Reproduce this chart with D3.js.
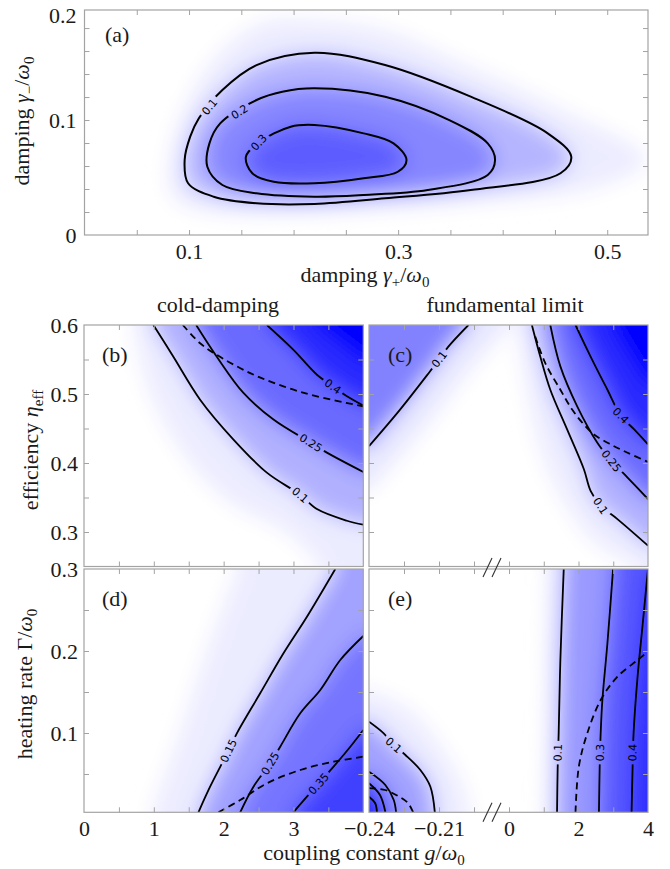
<!DOCTYPE html>
<html>
<head>
<meta charset="utf-8">
<script src="https://cdnjs.cloudflare.com/ajax/libs/d3/7.8.5/d3.min.js"></script>
<style>
  body { margin: 0; background: #fff; }
</style>
</head>
<body>
<svg id="chart" width="670" height="869"></svg>
<script>
// ---------- panel (a): damping gamma+ (x) vs gamma- (y) ----------
const aZero = [[0.0807,0.042],[0.0827,0.0739],[0.0991,0.1174],[0.1319,0.1609],[0.1727,0.1855],[0.2199,0.187],[0.2875,0.1783],[0.3694,0.1463],[0.4512,0.1116],[0.5372,0.0652],[0.4923,0.042],[0.3694,0.0276],[0.2199,0.0189],[0.1319,0.0189],[0.0909,0.0276]];
const aC01 = [[0.2199,0.1585],[0.2875,0.1478],[0.3694,0.1203],[0.4431,0.0884],[0.4656,0.0681],[0.4553,0.0537],[0.3694,0.0391],[0.2875,0.0319],[0.2199,0.027],[0.1646,0.0276],[0.1236,0.0333],[0.0991,0.045],[0.0958,0.0652],[0.1011,0.0855],[0.1094,0.1015],[0.1319,0.1261],[0.1646,0.1478]];
const aC02 = [[0.2199,0.1276],[0.2875,0.1203],[0.3489,0.1],[0.3857,0.0797],[0.3927,0.0652],[0.3857,0.0522],[0.3284,0.0391],[0.267,0.0348],[0.2199,0.0333],[0.1646,0.0363],[0.1319,0.0435],[0.1175,0.0594],[0.1195,0.0797],[0.1298,0.0971],[0.1646,0.1174],[0.1892,0.1246]];
const aC03 = [[0.2199,0.0957],[0.267,0.0884],[0.2956,0.0797],[0.308,0.0652],[0.2997,0.055],[0.267,0.0493],[0.2199,0.045],[0.181,0.0463],[0.1605,0.0537],[0.1544,0.0681],[0.1667,0.0805],[0.1973,0.0942]];
const aXTicks = [0.05,0.1,0.15,0.2,0.25,0.3,0.35,0.4,0.45,0.5];
const aXLabels = [0.1,0.3,0.5];
const aYTicks = [0.02,0.04,0.06,0.08,0.1,0.12,0.14,0.16,0.18];
const aYLabels = [0,0.1];
const aYTopLabel = [0.2];

// ---------- panel (b): cold-damping, efficiency vs coupling ----------
const bZero = [[0.707,0.6],[0.946,0.5],[1.52,0.4],[2.14,0.34],[2.9,0.3],[3.4,0.25]];
const bC01 = [[0.994,0.6],[1.28,0.554],[1.663,0.4918],[2.141,0.434],[2.619,0.386],[3.097,0.3538],[3.336,0.3332],[3.766,0.3163],[4.0,0.3106]];
const bC025 = [[1.606,0.6],[1.902,0.554],[2.284,0.5015],[2.714,0.463],[3.25,0.4293],[3.479,0.415],[4.0,0.387]];
const bC04 = [[2.619,0.6],[3.0,0.564],[3.336,0.5279],[3.565,0.511],[3.766,0.4966],[4.0,0.4832]];
const bDash = [[1.415,0.6],[1.663,0.5735],[1.902,0.5567],[2.38,0.5303],[2.857,0.511],[3.336,0.4966],[4.0,0.4822]];
const bHigh = [[3.3,0.6],[3.7,0.57],[4.0,0.545]];

// ---------- panel (c): fundamental limit, efficiency vs coupling (broken axis) ----------
const cLZero = [[-0.24,0.36],[-0.2153,0.455],[-0.1981,0.53],[0.03,0.6]];
const cLC01 = [[-0.24,0.4245],[-0.2267,0.4774],[-0.2139,0.5327],[-0.2099,0.5505],[-0.206,0.5687],[-0.1974,0.6]];
const cRZero = [[0.22,0.6],[0.513,0.506],[0.899,0.42],[1.478,0.352],[2.443,0.285],[3.41,0.256],[3.7,0.25]];
const cRC01 = [[0.658,0.6],[0.899,0.5543],[1.188,0.5062],[1.672,0.4486],[2.155,0.3909],[2.348,0.3596],[2.638,0.338],[3.12,0.3187],[4.0,0.2802]];
const cRC025 = [[1.188,0.6],[1.478,0.54],[1.962,0.4822],[2.542,0.4294],[2.947,0.403],[3.412,0.3789],[4.0,0.3476]];
const cRC04 = [[1.913,0.6],[2.348,0.5543],[2.832,0.5062],[3.217,0.4687],[3.603,0.4486],[4.0,0.427]];
const cRDash = [[0.754,0.5832],[1.043,0.5447],[1.478,0.5062],[1.817,0.4774],[2.155,0.4558],[2.445,0.4414],[2.928,0.4269],[3.412,0.4149],[4.0,0.4014]];
const cRHigh = [[2.9,0.6],[3.5,0.55],[4.0,0.51]];

// ---------- panel (d): cold-damping, heating rate vs coupling ----------
const dZero = [[0.97,0.0033],[1.376,0.1],[1.76,0.2],[2.2,0.3]];
const dC015 = [[1.639,0.0033],[1.806,0.0345],[2.069,0.0784],[2.189,0.0996],[2.523,0.1484],[2.857,0.1972],[3.193,0.2418],[3.599,0.3]];
const dC025 = [[2.237,0.0033],[2.427,0.0345],[2.667,0.063],[2.81,0.0833],[3.097,0.124],[3.384,0.1524],[3.67,0.189],[4.0,0.2183]];
const dC035 = [[3.0,0.0033],[3.193,0.0223],[3.36,0.038],[3.574,0.0589],[3.814,0.0833],[4.0,0.1037]];
const dDash = [[1.926,0.0033],[2.237,0.0183],[2.619,0.0386],[3.097,0.0549],[3.574,0.065],[4.0,0.0711]];

// ---------- panel (e): fundamental limit, heating rate vs coupling ----------
const eLZero = [[-0.24,0.152],[-0.2224,0.128],[-0.2081,0.0793],[-0.1996,0.0345],[-0.1967,0.0033]];
const eLC01 = [[-0.24,0.1138],[-0.2337,0.0996],[-0.2294,0.0854],[-0.2244,0.0732],[-0.218,0.0549],[-0.2137,0.0345],[-0.2118,0.0033]];
const eLC02 = [[-0.24,0.0528],[-0.233,0.0366],[-0.2294,0.0183],[-0.2284,0.0033]];
const eLC03 = [[-0.24,0.0387],[-0.2353,0.0244],[-0.233,0.0037]];
const eLC04 = [[-0.24,0.0223],[-0.2374,0.0146],[-0.2366,0.0037]];
const eLDash = [[-0.24,0.0329],[-0.2331,0.0305],[-0.2276,0.0232],[-0.2233,0.0146],[-0.2211,0.0033]];
const eRZero = [[1.14,0.3],[1.093,0.152],[1.043,0.0033]];
const eRC01 = [[1.575,0.3],[1.478,0.189],[1.429,0.0996],[1.4,0.057],[1.382,0.0033]];
const eRC03 = [[2.995,0.3],[2.832,0.2094],[2.687,0.1402],[2.638,0.0996],[2.609,0.057],[2.588,0.0033]];
const eRC04 = [[4.0,0.3],[3.84,0.2296],[3.7,0.1687],[3.585,0.0996],[3.556,0.057],[3.527,0.0033]];
const eRDash = [[1.913,0.0033],[2.009,0.0589],[2.252,0.0996],[2.638,0.1402],[3.122,0.1687],[3.701,0.189],[4.0,0.1992]];

// shared ticks for the lower panels
const bdXTicks = [0.5,1,1.5,2,2.5,3,3.5];
const dXLabels = [0,1,2,3];
const bcYTicks = [0.3,0.35,0.4,0.45,0.5,0.55];
const bYLabels = [0.3,0.4,0.5,0.6];
const deYTicks = [0.05,0.1,0.15,0.2,0.25];
const dYLabels = [0.1,0.2,0.3];
const ceXTicksL = [-0.225,-0.21,-0.195];
const ceXTicksR = [0,1,2,3];
const eXLabelsL = [-0.24,-0.21];
const eXLabelsR = [0,2,4];

const W = 670, H = 869;
const SERIF = '"Liberation Serif","Times New Roman",serif';
const INK = "#1a1a1a", FRAME = "#a3a3a3";

const svg = d3.select("#chart");
const defs = svg.append("defs");
defs.append("filter").attr("id", "soft")
    .attr("filterUnits", "userSpaceOnUse")
    .attr("x", 0).attr("y", 0).attr("width", W).attr("height", H)
  .append("feGaussianBlur").attr("stdDeviation", 10);

const shade = d3.scaleLinear().domain([0, 0.55]).range(["#ffffff", "#0000ff"]).clamp(true);

// scales
const xa = d3.scaleLinear().domain([0, 0.539]).range([84.5, 648]);
const ya = d3.scaleLinear().domain([0, 0.1957]).range([235, 10]);
const yaTop = d3.scaleLinear().domain([0, 0.1957]).range([240, 15]).clamp(true);
const xbd = d3.scaleLinear().domain([0, 4]).range([84, 363.3]);
const yb = d3.scaleLinear().domain([0.25, 0.6]).range([566.5, 325]);
const yd = d3.scaleLinear().domain([0.0033, 0.3]).range([812.3, 569]);
const xceL = d3.scaleLinear().domain([-0.24, -0.1873]).range([369, 492]);
const xceR = d3.scaleLinear().domain([-0.49, 4]).range([492, 648]);
const xce = g => g <= -0.1873 ? xceL(g) : xceR(g);

function drawPanel(p) {
    const { l, r, t, b } = p.box;
    const px = d => [p.x(d[0]), p.y(d[1])];
    const m = 40;
    const corner = { tl: [l - m, t - m], tr: [r + m, t - m], br: [r + m, b + m], bl: [l - m, b + m] };
    const push = q => {
        const dl = Math.abs(q[0] - l), dr = Math.abs(q[0] - r), dt = Math.abs(q[1] - t), db = Math.abs(q[1] - b);
        const mn = Math.min(dl, dr, dt, db);
        if (mn === dl) return [l - m, q[1]];
        if (mn === dr) return [r + m, q[1]];
        if (mn === dt) return [q[0], t - m];
        return [q[0], b + m];
    };

    defs.append("clipPath").attr("id", "clip-" + p.id)
      .append("rect").attr("x", l).attr("y", t).attr("width", r - l).attr("height", b - t);

    // density shading: bands filled by level, then softened
    const sh = svg.append("g").attr("clip-path", `url(#clip-${p.id})`)
      .append("g").attr("filter", "url(#soft)");
    p.fills.forEach(([pts, v, corners]) => {
        const P = pts.map(px);
        let d;
        if (!corners) {
            d = d3.line().curve(d3.curveCatmullRomClosed)(P);
        } else {
            const a = push(P[0]), z = push(P[P.length - 1]);
            d = `M${a}` + d3.line().curve(d3.curveCatmullRom)(P).replace(/^M/, "L") +
                `L${z}` + corners.map(c => `L${corner[c]}`).join("") + "Z";
        }
        sh.append("path").attr("d", d).attr("fill", shade(v));
    });

    // contour lines, with gaps under the labels
    const mask = defs.append("mask").attr("id", "mask-" + p.id)
        .attr("maskUnits", "userSpaceOnUse")
        .attr("x", 0).attr("y", 0).attr("width", W).attr("height", H);
    mask.append("rect").attr("x", 0).attr("y", 0).attr("width", W).attr("height", H).attr("fill", "#fff");

    const lg = svg.append("g").attr("clip-path", `url(#clip-${p.id})`)
      .append("g").attr("mask", `url(#mask-${p.id})`);
    p.lines.forEach(([pts, dashed]) => {
        lg.append("path")
          .attr("d", d3.line().curve(p.closed ? d3.curveCatmullRomClosed : d3.curveCatmullRom)(pts.map(px)))
          .attr("fill", "none")
          .attr("stroke", "#000")
          .attr("stroke-width", p.closed ? 2 : 1.8)
          .attr("stroke-dasharray", dashed ? "7,4.5" : null);
    });

    p.labels.forEach(([txt, gx, gy, pts]) => {
        const c = px([gx, gy]);
        const P = pts.map(px);
        let best = 0, bd = Infinity;
        for (let i = 0; i < P.length - 1; i++) {
            const mx = (P[i][0] + P[i + 1][0]) / 2, my = (P[i][1] + P[i + 1][1]) / 2;
            const dd = (mx - c[0]) ** 2 + (my - c[1]) ** 2;
            if (dd < bd) { bd = dd; best = i; }
        }
        let ang = Math.atan2(P[best + 1][1] - P[best][1], P[best + 1][0] - P[best][0]) * 180 / Math.PI;
        if (ang > 90) ang -= 180;
        if (ang < -90) ang += 180;
        const tr = `translate(${c}) rotate(${ang})`;
        const tx = svg.append("text")
            .attr("transform", tr)
            .attr("text-anchor", "middle")
            .attr("dy", "0.36em")
            .attr("font-family", '"DejaVu Sans",sans-serif')
            .attr("font-size", 11)
            .attr("fill", "#000")
            .text(txt);
        const w = tx.node().getComputedTextLength() + 6;
        mask.append("rect").attr("transform", tr)
            .attr("x", -w / 2).attr("y", -6).attr("width", w).attr("height", 12).attr("fill", "#000");
    });

    svg.append("rect").attr("x", l).attr("y", t).attr("width", r - l).attr("height", b - t)
       .attr("fill", "none").attr("stroke", FRAME).attr("stroke-width", 1.2);
}

const axisOf = { bottom: d3.axisBottom, top: d3.axisTop, left: d3.axisLeft, right: d3.axisRight };

function tickSide(scale, vals, side, pos) {
    const ax = axisOf[side](scale).tickValues(vals).tickSize(-5).tickFormat("");
    const g = svg.append("g")
        .attr("transform", side === "bottom" || side === "top" ? `translate(0,${pos})` : `translate(${pos},0)`)
        .call(ax);
    g.select(".domain").remove();
    g.selectAll("line").attr("stroke", FRAME).attr("stroke-width", 1);
}

function labelSide(scale, vals, side, pos, pad) {
    const ax = axisOf[side](scale).tickValues(vals).tickSize(0).tickPadding(pad).tickFormat(d3.format("~g"));
    const g = svg.append("g")
        .attr("transform", side === "bottom" || side === "top" ? `translate(0,${pos})` : `translate(${pos},0)`)
        .call(ax);
    g.select(".domain").remove();
    g.attr("font-family", SERIF).attr("font-size", 22).attr("color", INK);
}

function mathText(x, y, parts, rotate, anchor) {
    const t = svg.append("text")
        .attr("transform", `translate(${x},${y})` + (rotate ? " rotate(-90)" : ""))
        .attr("text-anchor", anchor || "middle")
        .attr("font-family", SERIF).attr("font-size", 22).attr("fill", INK);
    let shift = 0;
    parts.forEach(([s, kind]) => {
        const sp = t.append("tspan").text(s);
        if (kind.includes("i")) sp.attr("font-style", "italic");
        const target = kind.includes("s") ? 5 : 0;
        if (kind.includes("s")) sp.attr("font-size", 15);
        if (target !== shift) sp.attr("dy", target - shift);
        shift = target;
    });
    return t;
}

// ---- (a) ----
drawPanel({
    id: "a", x: xa, y: ya, box: { l: 84.5, r: 648, t: 10, b: 235 }, closed: true,
    fills: [[aZero, 0.04], [aC01, 0.16], [aC02, 0.26], [aC03, 0.35]],
    lines: [[aC01, false], [aC02, false], [aC03, false]],
    labels: [["0.1", 0.1195, 0.1116, aC01], ["0.2", 0.1482, 0.1072, aC02], ["0.3", 0.1667, 0.0805, aC03]]
});
tickSide(xa, aXTicks, "bottom", 235);
tickSide(xa, aXTicks, "top", 10);
tickSide(ya, aYTicks, "left", 84.5);
tickSide(ya, aYTicks, "right", 648);
labelSide(xa, aXLabels, "bottom", 235, 8);
labelSide(ya, aYLabels, "left", 84.5, 8);
labelSide(yaTop, aYTopLabel, "left", 84.5, 8);

// ---- (b) ----
drawPanel({
    id: "b", x: xbd, y: yb, box: { l: 84, r: 363.3, t: 325, b: 566.5 },
    fills: [[bZero, 0.04, ["br", "tr"]], [bC01, 0.17, ["tr"]], [bC025, 0.32, ["tr"]], [bC04, 0.46, ["tr"]], [bHigh, 0.6, ["tr"]]],
    lines: [[bC01, false], [bC025, false], [bC04, false], [bDash, true]],
    labels: [["0.1", 3.097, 0.3538, bC01], ["0.25", 3.25, 0.4293, bC025], ["0.4", 3.565, 0.511, bC04]]
});
tickSide(xbd, bdXTicks, "top", 325);
tickSide(xbd, bdXTicks, "bottom", 566.5);
tickSide(yb, bcYTicks, "left", 84);
tickSide(yb, bcYTicks, "right", 363.3);
labelSide(yb, bYLabels, "left", 84, 6);

// ---- (c) ----
drawPanel({
    id: "c", x: xce, y: yb, box: { l: 369, r: 648, t: 325, b: 566.5 },
    fills: [[cLZero, 0.05, ["tl"]], [cLC01, 0.27, ["tl"]],
            [cRZero, 0.04, ["br", "tr"]], [cRC01, 0.17, ["tr"]], [cRC025, 0.32, ["tr"]], [cRC04, 0.46, ["tr"]], [cRHigh, 0.6, ["tr"]]],
    lines: [[cLC01, false], [cRC01, false], [cRC025, false], [cRC04, false], [cRDash, true]],
    labels: [["0.1", -0.2099, 0.5505, cLC01], ["0.1", 2.638, 0.338, cRC01], ["0.25", 2.947, 0.403, cRC025], ["0.4", 3.217, 0.4687, cRC04]]
});
tickSide(xceL, ceXTicksL, "top", 325);
tickSide(xceR, ceXTicksR, "top", 325);
tickSide(xceL, ceXTicksL, "bottom", 566.5);
tickSide(xceR, ceXTicksR, "bottom", 566.5);
tickSide(yb, bcYTicks, "left", 369);
tickSide(yb, bcYTicks, "right", 648);

// ---- (d) ----
drawPanel({
    id: "d", x: xbd, y: yd, box: { l: 84, r: 363.3, t: 569, b: 812.3 },
    fills: [[dZero, 0.04, ["tr", "br"]], [dC015, 0.2, ["tr", "br"]], [dC025, 0.3, ["br"]], [dC035, 0.41, ["br"]]],
    lines: [[dC015, false], [dC025, false], [dC035, false], [dDash, true]],
    labels: [["0.15", 2.069, 0.0784, dC015], ["0.25", 2.667, 0.063, dC025], ["0.35", 3.36, 0.038, dC035]]
});
tickSide(xbd, bdXTicks, "top", 569);
tickSide(xbd, bdXTicks, "bottom", 812.3);
tickSide(yd, deYTicks, "left", 84);
tickSide(yd, deYTicks, "right", 363.3);
labelSide(yd, dYLabels, "left", 84, 6);
labelSide(xbd, dXLabels, "bottom", 812.3, 8);

// ---- (e) ----
drawPanel({
    id: "e", x: xce, y: yd, box: { l: 369, r: 648, t: 569, b: 812.3 },
    fills: [[eLZero, 0.04, ["bl"]], [eLC01, 0.2, ["bl"]], [eLC02, 0.3, ["bl"]], [eLC03, 0.4, ["bl"]], [eLC04, 0.5, ["bl"]],
            [eRZero, 0.05, ["br", "tr"]], [eRC01, 0.22, ["br", "tr"]], [eRC03, 0.36, ["br", "tr"]], [eRC04, 0.45, ["br", "tr"]]],
    lines: [[eLC01, false], [eLC02, false], [eLC03, false], [eLC04, false], [eLDash, true],
            [eRC01, false], [eRC03, false], [eRC04, false], [eRDash, true]],
    labels: [["0.1", -0.2294, 0.0854, eLC01], ["0.1", 1.4, 0.076, eRC01], ["0.3", 2.62, 0.076, eRC03], ["0.4", 3.556, 0.076, eRC04]]
});
tickSide(xceL, ceXTicksL, "top", 569);
tickSide(xceR, ceXTicksR, "top", 569);
tickSide(xceL, ceXTicksL, "bottom", 812.3);
tickSide(xceR, ceXTicksR, "bottom", 812.3);
tickSide(yd, deYTicks, "left", 369);
tickSide(yd, deYTicks, "right", 648);
labelSide(xceL, eXLabelsL, "bottom", 812.3, 8);
labelSide(xceR, eXLabelsR, "bottom", 812.3, 8);

// axis-break marks
const bx = xceL.range()[1];
[567.5, 812.3].forEach(yy => {
    [0, 9].forEach(off => {
        svg.append("line")
          .attr("x1", bx - 9 + off).attr("y1", yy + 9.5)
          .attr("x2", bx + off).attr("y2", yy - 9.5)
          .attr("stroke", "#333").attr("stroke-width", 1.1);
    });
});

// panel letters
[["(a)", 105, 42], ["(b)", 102, 362], ["(c)", 388, 362], ["(d)", 102, 606], ["(e)", 388, 606]].forEach(([s, x, y]) => {
    svg.append("text").attr("x", x).attr("y", y)
       .attr("font-family", SERIF).attr("font-size", 22).attr("fill", INK).text(s);
});

// column titles
svg.append("text").attr("x", 218).attr("y", 312).attr("text-anchor", "middle")
   .attr("font-family", SERIF).attr("font-size", 22).attr("fill", INK).text("cold-damping");
svg.append("text").attr("x", 505).attr("y", 312).attr("text-anchor", "middle")
   .attr("font-family", SERIF).attr("font-size", 22).attr("fill", INK).text("fundamental limit");

// axis titles
mathText(365, 282, [["damping ", ""], ["γ", "i"], ["+", "s"], ["/", ""], ["ω", "i"], ["0", "s"]]);
mathText(364, 860, [["coupling constant ", ""], ["g", "i"], ["/", ""], ["ω", "i"], ["0", "s"]]);
mathText(29, 121, [["damping ", ""], ["γ", "i"], ["−", "s"], ["/", ""], ["ω", "i"], ["0", "s"]], true);
mathText(38, 450, [["efficiency ", ""], ["η", "i"], ["eff", "s"]], true);
mathText(32, 684, [["heating rate Γ/", ""], ["ω", "i"], ["0", "s"]], true);
</script>
</body>
</html>
